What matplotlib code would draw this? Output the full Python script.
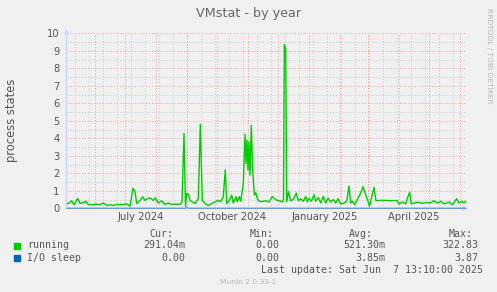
import datetime as dt
import numpy as np
import pandas as pd
import matplotlib
matplotlib.use("Agg")
import matplotlib.pyplot as plt
import matplotlib.dates as mdates
import matplotlib.transforms as mtrans
from matplotlib.patches import Rectangle

W, H = 497, 292

start = dt.datetime(2024, 5, 3, 13, 10)
end = dt.datetime(2025, 6, 7, 13, 10)

# days after start / value
run_days = [0.2, 2.5, 5.2, 7.5, 11.2, 13.5, 16.5, 19.5, 21.5, 25.5, 29.5, 33.5, 36.5, 40.5,
            43.5, 46.5, 50.5, 53.5, 56.5, 60.5, 63.5, 66.5, 68.5, 70.2, 73.5, 76.2, 78.5,
            80.2, 83.5, 86.8, 88.8, 91.8, 95.2, 98.5, 101.8, 105.5, 109.5, 113.5, 115.5,
            117.5, 119.0, 120.2, 121.8, 123.5, 126.2, 128.5, 131.8, 133.8, 135.8, 138.5,
            141.8, 145.2, 148.5, 151.8, 154.2, 156.8, 158.8, 160.2, 162.8, 165.2, 166.8,
            169.5, 170.8, 172.8, 174.2, 176.8, 178.5, 179.5, 180.5, 181.5, 182.5, 183.5,
            184.8, 186.2, 187.8, 189.2, 191.2, 193.5, 196.5, 199.5, 202.5, 205.8, 209.2,
            212.5, 215.8, 217.0, 217.8, 219.2, 220.2, 222.0, 224.2, 226.8, 229.8, 231.8,
            234.2, 236.8, 239.2, 240.8, 242.5, 244.8, 247.5, 249.2, 251.8, 254.2, 256.8,
            259.2, 261.5, 264.2, 266.8, 269.2, 271.5, 274.2, 277.5, 280.2, 282.5, 284.2,
            285.8, 288.2, 290.8, 294.2, 296.5, 299.2, 301.5, 303.0, 305.8, 307.5, 309.5,
            312.5, 318.5, 324.5, 330.5, 332.5, 335.8, 339.2, 341.5, 343.2, 344.8, 347.5,
            351.5, 355.5, 359.5, 363.5, 367.5, 370.8, 374.2, 377.5, 382.5, 385.8, 390.2,
            392.5, 395.8, 397.5, 399.2]
running = [0.25, 0.3, 0.43, 0.2, 0.57, 0.28, 0.32, 0.4, 0.22, 0.2, 0.24, 0.2, 0.3, 0.16,
           0.2, 0.16, 0.22, 0.2, 0.22, 0.25, 0.12, 1.14, 0.95, 0.27, 0.45, 0.66, 0.45,
           0.53, 0.6, 0.45, 0.6, 0.3, 0.43, 0.22, 0.3, 0.22, 0.24, 0.22, 0.37,
           4.27, 0.12, 0.85, 0.82, 0.45, 0.35, 0.27, 0.55, 4.8, 0.45, 0.27,
           0.16, 0.27, 0.37, 0.45, 0.37, 0.66, 2.2, 0.27, 0.45, 0.75, 0.3,
           0.66, 0.37, 0.66, 0.4, 1.4, 4.23, 2.56, 3.9, 2.18, 3.8, 1.9,
           4.75, 2.2, 0.76, 0.89, 0.5, 0.38, 0.4, 0.43, 0.36, 0.68, 0.49,
           0.43, 0.36, 0.5, 9.36, 9.1, 0.38, 0.95, 0.43, 0.5, 0.87, 0.43,
           0.55, 0.4, 0.68, 0.36, 0.58, 0.4, 0.77, 0.4, 0.62, 0.3, 0.68,
           0.3, 0.58, 0.36, 0.5, 0.3, 0.55, 0.25, 0.3, 0.4, 1.27, 0.3,
           0.4, 0.2, 0.5, 0.87, 1.24, 0.77, 0.4, 0.12, 0.77, 1.19, 0.43,
           0.45, 0.45, 0.44, 0.44, 0.25, 0.36, 0.25, 0.68, 0.92, 0.25, 0.3,
           0.35, 0.28, 0.33, 0.3, 0.43, 0.3, 0.4, 0.25, 0.36, 0.2, 0.55,
           0.3, 0.4, 0.3, 0.4]
io_days = [0.2, 119.0, 120.2, 121.8, 399.2]
io_sleep = [0.0, 0.0, 0.08, 0.0, 0.0]

month_labels = ["July 2024", "October 2024", "January 2025", "April 2025"]
label_dates = [dt.datetime(2024, 7, 16, 12), dt.datetime(2024, 10, 16, 12),
               dt.datetime(2025, 1, 16, 12), dt.datetime(2025, 4, 16)]

legend_names = ["running", "I/O sleep"]
legend_colors = ["#00cc00", "#0066b3"]
cur = ["291.04m", "0.00"]
mins = ["0.00", "0.00"]
avgs = ["521.30m", "3.85m"]
maxs = ["322.83", "3.87"]


def fx(x):
    return x / W


def fy(y):
    return 1 - y / H


fig = plt.figure(figsize=(W / 100, H / 100), dpi=100)
fig.patch.set_facecolor("#f0f0f0")
ax = fig.add_axes([fx(66.5), fy(208.3), 400 / W, 175 / H])
ax.set_facecolor("#f0f0f0")
for s in ax.spines.values():
    s.set_visible(False)
ax.set_xlim(start, end)
ax.set_ylim(0, 10)

# grid
dot = (0, (1, 2))
for v in np.arange(0.5, 10, 1.0):
    ax.axhline(v, color="#c8c8c8", lw=0.7, ls=dot, zorder=1)
for v in range(1, 11):
    ax.axhline(v, color="#f09a9a", lw=0.7, ls=dot, zorder=1)
for d in pd.date_range("2024-05-12", "2025-06-07", freq="14D"):
    ax.axvline(d, color="#c8c8c8", lw=0.7, ls=dot, zorder=1)
for d in pd.date_range("2024-06-01", "2025-06-01", freq="MS"):
    ax.axvline(d, color="#f09a9a", lw=0.7, ls=dot, zorder=1)

ax.set_xticks([])
ax.set_yticks(range(11))
ax.tick_params(axis="y", length=0, pad=5, labelsize=7.2, labelcolor="#555555")

# axes with arrows
ax.annotate("", xy=(fx(471), fy(208.3)), xytext=(fx(64), fy(208.3)),
            xycoords="figure fraction", textcoords="figure fraction",
            arrowprops=dict(arrowstyle="-|>", color="#cfd6f8", lw=1, mutation_scale=7))
ax.annotate("", xy=(fx(66.5), fy(26)), xytext=(fx(66.5), fy(210)),
            xycoords="figure fraction", textcoords="figure fraction",
            arrowprops=dict(arrowstyle="-|>", color="#cfd6f8", lw=1, mutation_scale=7))

t_run = [start + dt.timedelta(days=d) for d in run_days]
t_io = [start + dt.timedelta(days=d) for d in io_days]
ax.plot(t_io, io_sleep, color="#0066b3", lw=1, alpha=0.5, zorder=3, clip_on=False)
ax.plot(t_run, running, color="#00cc00", lw=1, zorder=4)

xfig = mtrans.blended_transform_factory(ax.transData, fig.transFigure)
for lab, d in zip(month_labels, label_dates):
    ax.text(mdates.date2num(d), fy(216.5), lab, transform=xfig,
            ha="center", va="center", fontsize=7.2, color="#555555")

fig.text(fx(248.5), fy(13), "VMstat - by year", ha="center", va="center",
         fontsize=9.2, color="#666666")
fig.text(fx(12), fy(120), "process states", rotation=90, ha="center", va="center",
         fontsize=8.3, color="#555555")
fig.text(fx(488.5), fy(56), "RRDTOOL / TOBI OETIKER", rotation=270, ha="center",
         va="center", fontsize=5.4, color="#b8b8b8")

mono = dict(family="DejaVu Sans Mono", fontsize=7.15, color="#555555", va="center")
fig.text(fx(149.3), fy(234), "Cur:", **mono)
fig.text(fx(250), fy(234), "Min:", **mono)
fig.text(fx(349), fy(234), "Avg:", **mono)
fig.text(fx(449), fy(234), "Max:", **mono)
rows_y = [245.5, 258]
for i in range(2):
    y = rows_y[i]
    fig.patches.append(Rectangle((fx(14), fy(y + 3)), 6 / W, 6 / H,
                                 transform=fig.transFigure, color=legend_colors[i]))
    fig.text(fx(27.3), fy(y), legend_names[i], **mono)
    fig.text(fx(185), fy(y), cur[i], ha="right", **mono)
    fig.text(fx(279.5), fy(y), mins[i], ha="right", **mono)
    fig.text(fx(385), fy(y), avgs[i], ha="right", **mono)
    fig.text(fx(478), fy(y), maxs[i], ha="right", **mono)

fig.text(fx(483), fy(270), "Last update: Sat Jun  7 13:10:00 2025", ha="right", **mono)
fig.text(fx(248.5), fy(281.5), "Munin 2.0.33-1", ha="center", va="center",
         fontsize=5.4, color="#b8b8b8")

fig.savefig("out.png", dpi=100, facecolor=fig.get_facecolor())
